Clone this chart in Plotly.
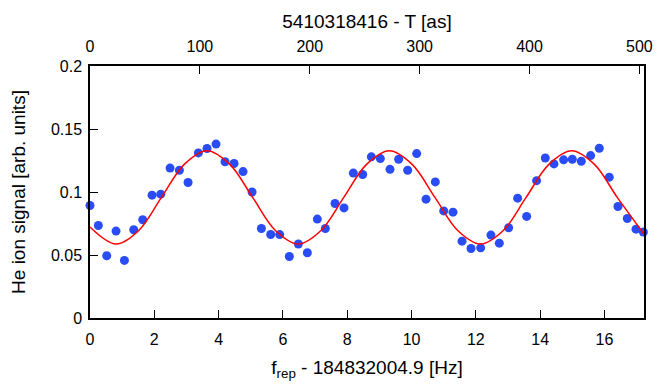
import plotly.graph_objects as go

# measured data points
f_data = [0.0, 0.26, 0.52, 0.81, 1.07, 1.36, 1.64, 1.93, 2.2, 2.49, 2.78, 3.05, 3.37, 3.64, 3.92,
          4.2, 4.48, 4.76, 5.04, 5.33, 5.62, 5.9, 6.2, 6.48, 6.76, 7.07, 7.32, 7.62, 7.9, 8.19,
          8.48, 8.75, 9.03, 9.33, 9.6, 9.88, 10.16, 10.45, 10.74, 11.0, 11.29, 11.57, 11.85,
          12.15, 12.47, 12.73, 13.02, 13.3, 13.58, 13.89, 14.16, 14.43, 14.73, 15.0, 15.28,
          15.57, 15.84, 16.15, 16.42, 16.71, 16.98, 17.21]
signal = [0.0893, 0.0734, 0.0494, 0.069, 0.0457, 0.070, 0.078, 0.0975, 0.0983, 0.119, 0.1173,
          0.1075, 0.131, 0.1345, 0.138, 0.124, 0.1226, 0.1162, 0.100, 0.071, 0.0663, 0.0662,
          0.0488, 0.0587, 0.0518, 0.0785, 0.071, 0.0909, 0.0874, 0.115, 0.1139, 0.1279, 0.1265,
          0.118, 0.126, 0.1173, 0.1305, 0.0943, 0.108, 0.085, 0.084, 0.061, 0.0552, 0.0557,
          0.0658, 0.0594, 0.0716, 0.0951, 0.0806, 0.109, 0.127, 0.1223, 0.1255, 0.126, 0.1244,
          0.1289, 0.1347, 0.1118, 0.0885, 0.079, 0.0705, 0.0682]

# fitted curve
f_fit = [0.0, 0.805, 1.514, 2.223, 2.931, 3.64, 4.349, 5.058, 5.766, 6.475, 7.184, 7.893,
         8.601, 9.31, 10.019, 10.728, 11.436, 12.145, 12.854, 13.563, 14.271, 14.98, 15.689,
         16.398, 17.22]
fit_vals = [0.0722, 0.0587, 0.0695, 0.0957, 0.1219, 0.1327, 0.1219, 0.0957, 0.0695, 0.0587,
            0.0695, 0.0957, 0.1219, 0.1327, 0.1219, 0.0957, 0.0695, 0.0587, 0.0695, 0.0957,
            0.1219, 0.1327, 0.1219, 0.0957, 0.0669]

x_ticks = [0, 2, 4, 6, 8, 10, 12, 14, 16]
top_ticks = [0, 100, 200, 300, 400, 500]
y_ticks = [0, 0.05, 0.1, 0.15, 0.2]
y_labels = ["0", "0.05", "0.1", "0.15", "0.2"]

font = dict(family="Liberation Sans, Arial, sans-serif", size=16, color="black")

fig = go.Figure()
fig.add_trace(go.Scatter(x=f_data, y=signal, mode="markers",
                         marker=dict(color="#2a4cf5", size=9, line=dict(width=0)),
                         showlegend=False, cliponaxis=False))
fig.add_trace(go.Scatter(x=f_fit, y=fit_vals, mode="lines",
                         line=dict(color="#ff0000", width=1.5, shape="spline", smoothing=1.0),
                         showlegend=False))
fig.add_trace(go.Scatter(x=[0, 500], y=[None, None], xaxis="x2", mode="lines",
                         showlegend=False, hoverinfo="skip"))

# page body has an 8px margin, so the figure is sized/offset to land the plot
# area at the reference position in the 665x389 window
fig.update_layout(
    width=657, height=381,
    margin=dict(l=82, r=21, t=58, b=71),
    paper_bgcolor="white", plot_bgcolor="white",
    font=font,
    xaxis=dict(range=[0, 17.23], tickvals=x_ticks, ticks="inside", ticklen=8,
               tickwidth=1.3, tickcolor="black", showline=True, linecolor="black",
               linewidth=1.5, mirror=True, showgrid=False, zeroline=False,
               ticklabelstandoff=6, automargin=False,
               title=dict(text="f<sub>rep</sub> - 184832004.9 [Hz]", standoff=14),
               tickfont=font),
    xaxis2=dict(range=[0, 504.2], overlaying="x", side="top", anchor="y",
                tickvals=top_ticks, ticks="inside", ticklen=8, tickwidth=1.3,
                tickcolor="black", showline=False, showgrid=False, zeroline=False,
                ticklabelstandoff=10, automargin=False,
                title=dict(text="5410318416 - T [as]", standoff=4), tickfont=font),
    yaxis=dict(range=[0, 0.2], tickvals=y_ticks, ticktext=y_labels, ticks="inside",
               ticklen=8, tickwidth=1.3, tickcolor="black", showline=True,
               linecolor="black", linewidth=1.5, mirror=True, showgrid=False,
               zeroline=False, ticklabelstandoff=3, automargin=False,
               title=dict(text="He ion signal [arb. units]", standoff=20),
               tickfont=font),
)

fig.write_html("out.html")
